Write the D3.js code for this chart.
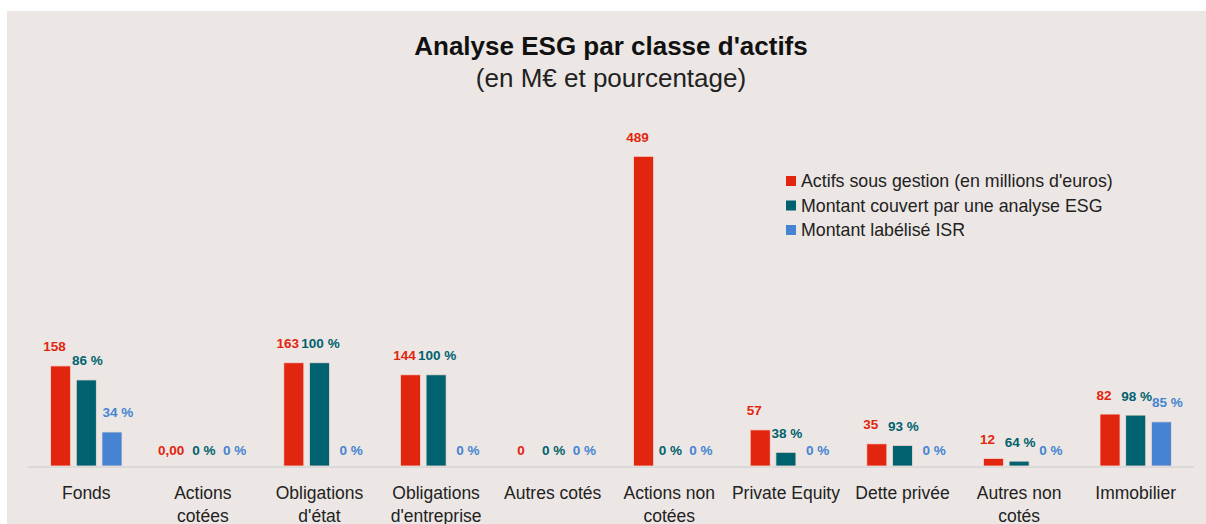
<!DOCTYPE html>
<html>
<head>
<meta charset="utf-8">
<script src="https://cdn.jsdelivr.net/npm/d3@7"></script>
<style>
  html, body { margin: 0; padding: 0; background: #ffffff; }
  svg { display: block; }
</style>
</head>
<body>
<div id="chart"></div>
<script>
// Data
const categories = [
  ["Fonds"], ["Actions", "cotées"], ["Obligations", "d'état"], ["Obligations", "d'entreprise"],
  ["Autres cotés"], ["Actions non", "cotées"], ["Private Equity"], ["Dette privée"],
  ["Autres non", "cotés"], ["Immobilier"]
];
const actifs = [158, 0, 163, 144, 0, 489, 57, 35, 12, 82];          // M€
const actifsLabels = ["158", "0,00", "163", "144", "0", "489", "57", "35", "12", "82"];
const esgPct = [86, 0, 100, 100, 0, 0, 38, 93, 64, 98];             // % of actifs
const isrPct = [34, 0, 0, 0, 0, 0, 0, 0, 0, 85];                    // % of actifs
const seriesNames = [
  "Actifs sous gestion (en millions d'euros)",
  "Montant couvert par une analyse ESG",
  "Montant labélisé ISR"
];

function makeChart(containerSelector) {
    const width = 1206, height = 524;
    const colors = ["#e2250e", "#01626f", "#4684d3"];
    const textColor = "#222222";
    const fontFamily = "'Liberation Sans', Arial, Helvetica, sans-serif";

    const svg = d3.select(containerSelector).append("svg")
        .attr("width", width).attr("height", height);

    // chart area background
    svg.append("rect")
        .attr("x", 7).attr("y", 11)
        .attr("width", width - 7).attr("height", height - 11)
        .attr("fill", "#ece7e4");

    // titles
    svg.append("text")
        .attr("x", 611).attr("y", 55)
        .attr("text-anchor", "middle")
        .style("font-family", fontFamily).style("font-size", "26px").style("font-weight", "bold")
        .style("fill", "#111")
        .text("Analyse ESG par classe d'actifs");
    svg.append("text")
        .attr("x", 611).attr("y", 87)
        .attr("text-anchor", "middle")
        .style("font-family", fontFamily).style("font-size", "26px")
        .style("fill", "#222")
        .text("(en M€ et pourcentage)");

    // rows: amounts in M€ for each series
    const rows = categories.map((c, i) => ({
        key: i,
        lines: c,
        values: [
            { s: 0, v: actifs[i], label: actifsLabels[i] },
            { s: 1, v: actifs[i] * esgPct[i] / 100, label: esgPct[i] + " %" },
            { s: 2, v: actifs[i] * isrPct[i] / 100, label: isrPct[i] + " %" }
        ]
    }));

    const baseline = 466;
    const x0 = d3.scaleBand().domain(rows.map(d => d.key)).range([28, 1194]).padding(0);
    const half = 35.7;
    const x1 = d3.scaleBand().domain([0, 1, 2])
        .range([x0.bandwidth() / 2 - half, x0.bandwidth() / 2 + half])
        .paddingInner(0.22).paddingOuter(0);
    const y = d3.scaleLinear().domain([0, 600]).range([baseline, 86]);

    // axis line
    svg.append("line")
        .attr("x1", x0.range()[0]).attr("x2", x0.range()[1])
        .attr("y1", baseline + 1).attr("y2", baseline + 1)
        .attr("stroke", "#d9d9d9").attr("stroke-width", 2);

    const groups = svg.selectAll(".group").data(rows).enter().append("g")
        .attr("class", "group")
        .attr("transform", d => `translate(${x0(d.key)},0)`);

    groups.selectAll("rect").data(d => d.values.filter(v => v.v > 0)).enter().append("rect")
        .attr("x", d => x1(d.s))
        .attr("y", d => y(d.v))
        .attr("width", x1.bandwidth())
        .attr("height", d => baseline - y(d.v))
        .attr("fill", d => colors[d.s])
        .attr("stroke", "#f3dcd6").attr("stroke-width", 0.8);

    // labels are nudged apart a little, like the original's
    const labelShift = [-6, 1, 6];
    groups.selectAll(".data-label").data(d => d.values).enter().append("text")
        .attr("class", "data-label")
        .attr("x", d => x1(d.s) + x1.bandwidth() / 2 + labelShift[d.s])
        .attr("y", d => d.v > 0 ? y(d.v) - 14.5 : baseline - 11.5)
        .attr("text-anchor", "middle")
        .style("font-family", fontFamily).style("font-size", "13.5px").style("font-weight", "bold")
        .style("fill", d => colors[d.s])
        .text(d => d.label);

    // category labels
    groups.append("text")
        .attr("text-anchor", "middle")
        .style("font-family", fontFamily).style("font-size", "17.5px")
        .style("fill", textColor)
        .selectAll("tspan").data(d => d.lines).enter().append("tspan")
        .attr("x", x0.bandwidth() / 2)
        .attr("y", (d, i) => 499 + i * 22.5)
        .text(d => d);

    // legend
    const legend = svg.append("g").attr("transform", "translate(786,181)");
    seriesNames.forEach((name, i) => {
        const row = legend.append("g").attr("transform", `translate(0,${i * 24.5})`);
        row.append("rect").attr("x", 0).attr("y", -5).attr("width", 10).attr("height", 10)
            .attr("fill", colors[i]);
        row.append("text").attr("x", 15).attr("y", 6)
            .style("font-family", fontFamily).style("font-size", "17.8px")
            .style("fill", textColor)
            .text(name);
    });

    return svg.node();
}

makeChart("#chart");
</script>
</body>
</html>
